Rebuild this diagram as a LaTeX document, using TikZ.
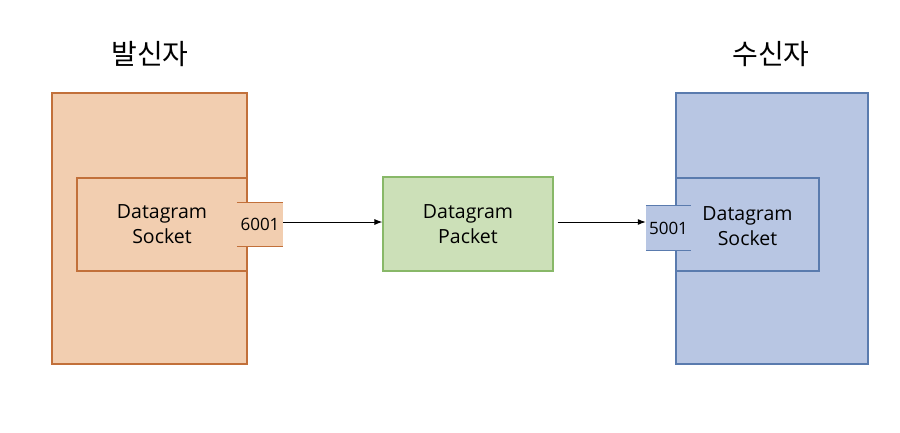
\documentclass[tikz,border=0pt]{standalone}
\usepackage{fontspec}
\setmainfont{Open Sans}
\newfontfamily\kr{Noto Sans CJK KR}
\usetikzlibrary{arrows.meta}
\definecolor{ofill}{HTML}{F2CEB0}
\definecolor{odraw}{HTML}{C2703A}
\definecolor{bfill}{HTML}{B8C6E3}
\definecolor{bdraw}{HTML}{5A7BAE}
\definecolor{gfill}{HTML}{CCE0B8}
\definecolor{gdraw}{HTML}{88B868}
\tikzset{
  box/.style={rectangle, inner sep=0pt, line width=1.1pt, align=center, font=\fontsize{19.5}{25}\selectfont},
  port/.style={rectangle, inner sep=0pt, font=\fontsize{17}{20}\selectfont},
  title/.style={font=\kr\fontsize{28}{32}\selectfont},
  conn/.style={-{Latex[length=8pt,width=6pt]}, line width=1pt},
}
\begin{document}
\begin{tikzpicture}[x=1pt,y=-1pt]
\useasboundingbox (0,0) rectangle (900,432);
% sender
\node[box, draw=odraw, fill=ofill, minimum width=195pt, minimum height=271pt] (sender) at (149.5,228.5) {};
\node[box, draw=odraw, fill=ofill, minimum width=170pt, minimum height=93pt] (ssock) at (162,224.5) {Datagram\\Socket};
\node[port, fill=ofill, minimum width=46pt, minimum height=44pt] (p6001) at (260,224.5) {6001};
\draw[odraw, line width=1.1pt] (p6001.north west) -- (p6001.north east);
\draw[odraw, line width=1.1pt] (p6001.south west) -- (p6001.south east);
\node[title] (tsend) at (150,54) {발신자};
% packet
\node[box, draw=gdraw, fill=gfill, minimum width=170pt, minimum height=94pt] (packet) at (468,224) {Datagram\\Packet};
% receiver
\node[box, draw=bdraw, fill=bfill, minimum width=192pt, minimum height=271pt] (recv) at (772,228.5) {};
\node[box, draw=bdraw, fill=bfill, minimum width=143pt, minimum height=93pt] (rsock) at (747.5,224.5) {};
\node[box, anchor=center] (rtext) at (747.5,226) {Datagram\\Socket};
\node[port, fill=bfill, minimum width=45pt, minimum height=45pt] (p5001) at (668.5,228) {5001};
\draw[bdraw, line width=1.1pt] (p5001.north west) -- (p5001.north east);
\draw[bdraw, line width=1.1pt] (p5001.south west) -- (p5001.south east);
\node[title] (trecv) at (771,54) {수신자};
% connectors
\draw[conn] (p6001.east |- 0,222) -- (packet.west |- 0,222);
\draw[conn] ([xshift=4pt]packet.east |- 0,222) -- (p5001.west |- 0,222);
\end{tikzpicture}
\end{document}
